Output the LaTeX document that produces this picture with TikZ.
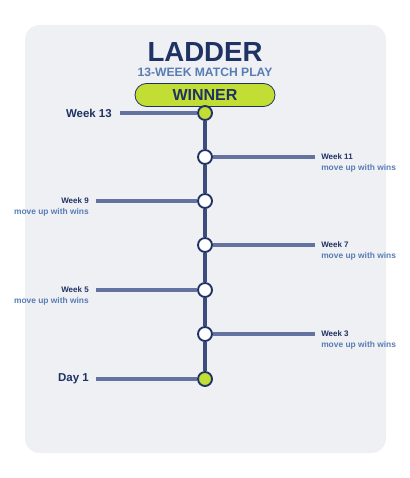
\documentclass[tikz,border=0pt]{standalone}
\usepackage{fontspec}
\setmainfont{Liberation Sans}
\definecolor{ldnavy}{RGB}{30,50,100}
\definecolor{ldsteel}{RGB}{88,124,180}
\definecolor{ldspine}{RGB}{60,76,125}
\definecolor{ldrung}{RGB}{100,114,160}
\definecolor{ldlime}{RGB}{194,222,52}
\definecolor{ldpanel}{RGB}{239,240,244}
\usetikzlibrary{positioning}

\begin{document}
\begin{tikzpicture}[x=0.75pt, y=-0.75pt,
    rungdot/.style={circle, draw=ldnavy, line width=1.4pt, fill=white,
                    minimum size=10.5pt, inner sep=0pt},
    rung/.style={ldrung, line width=2.6pt},
    spine/.style={ldspine, line width=3pt},
    wklab/.style={font=\fontsize{6}{7}\selectfont\bfseries, text=ldnavy, inner sep=0pt},
    sublab/.style={font=\fontsize{6.3}{7}\selectfont\bfseries, text=ldsteel, inner sep=0pt},
    biglab/.style={font=\fontsize{8.6}{10}\selectfont\bfseries, text=ldnavy, inner sep=0pt}]
  \useasboundingbox (0,0) rectangle (410,478);
  \fill[ldpanel, rounded corners=11pt] (25,25) rectangle (386,453);

  % heading
  \node[font=\fontsize{20.7}{24}\selectfont\bfseries, text=ldnavy] (title) at (205,52) {LADDER};
  \node[font=\fontsize{9.1}{11}\selectfont\bfseries, text=ldsteel] (subtitle) at (205,72) {13-WEEK MATCH PLAY};
  \node[draw=ldnavy, line width=0.6pt, fill=ldlime, rounded corners=8.6pt,
        minimum width=105pt, minimum height=17.25pt, inner sep=0pt,
        font=\fontsize{12}{14}\selectfont\bfseries, text=ldnavy] (winner) at (205,95) {WINNER};

  % top and bottom rungs
  \node[rungdot, fill=ldlime] (w13) at (205,113) {};
  \coordinate (e13) at (120,113);
  \draw[rung] (w13) -- (e13);
  \node[biglab, anchor=east] (l13) at ([xshift=-6pt]e13) {Week 13};

  \node[rungdot, fill=ldlime] (d1) at (205,379) {};
  \coordinate (e1) at (96,379);
  \draw[rung] (d1) -- (e1);
  \node[biglab, anchor=east] (l1) at ([xshift=-5.25pt]e1) {Day 1};

  % weekly rungs
  \foreach \wk/\yy/\xe/\an/\dx in {11/157/315/west/4.5, 9/201/96/east/-5.25,
      7/245/315/west/4.5, 5/290/96/east/-5.25, 3/334/315/west/4.5} {
    \node[rungdot] (w\wk) at (205,\yy) {};
    \coordinate (e\wk) at (\xe,\yy);
    \draw[rung] (w\wk) -- (e\wk);
    \node[wklab, anchor=\an] (l\wk) at ([xshift=\dx pt]e\wk) {Week \wk};
    \node[sublab, anchor=\an] (m\wk) at ([yshift=-8.25pt]l\wk.\an) {move up with wins};
  }

  % spine
  \draw[spine] (w13) -- (w11);
  \draw[spine] (w11) -- (w9);
  \draw[spine] (w9) -- (w7);
  \draw[spine] (w7) -- (w5);
  \draw[spine] (w5) -- (w3);
  \draw[spine] (w3) -- (d1);
\end{tikzpicture}
\end{document}
